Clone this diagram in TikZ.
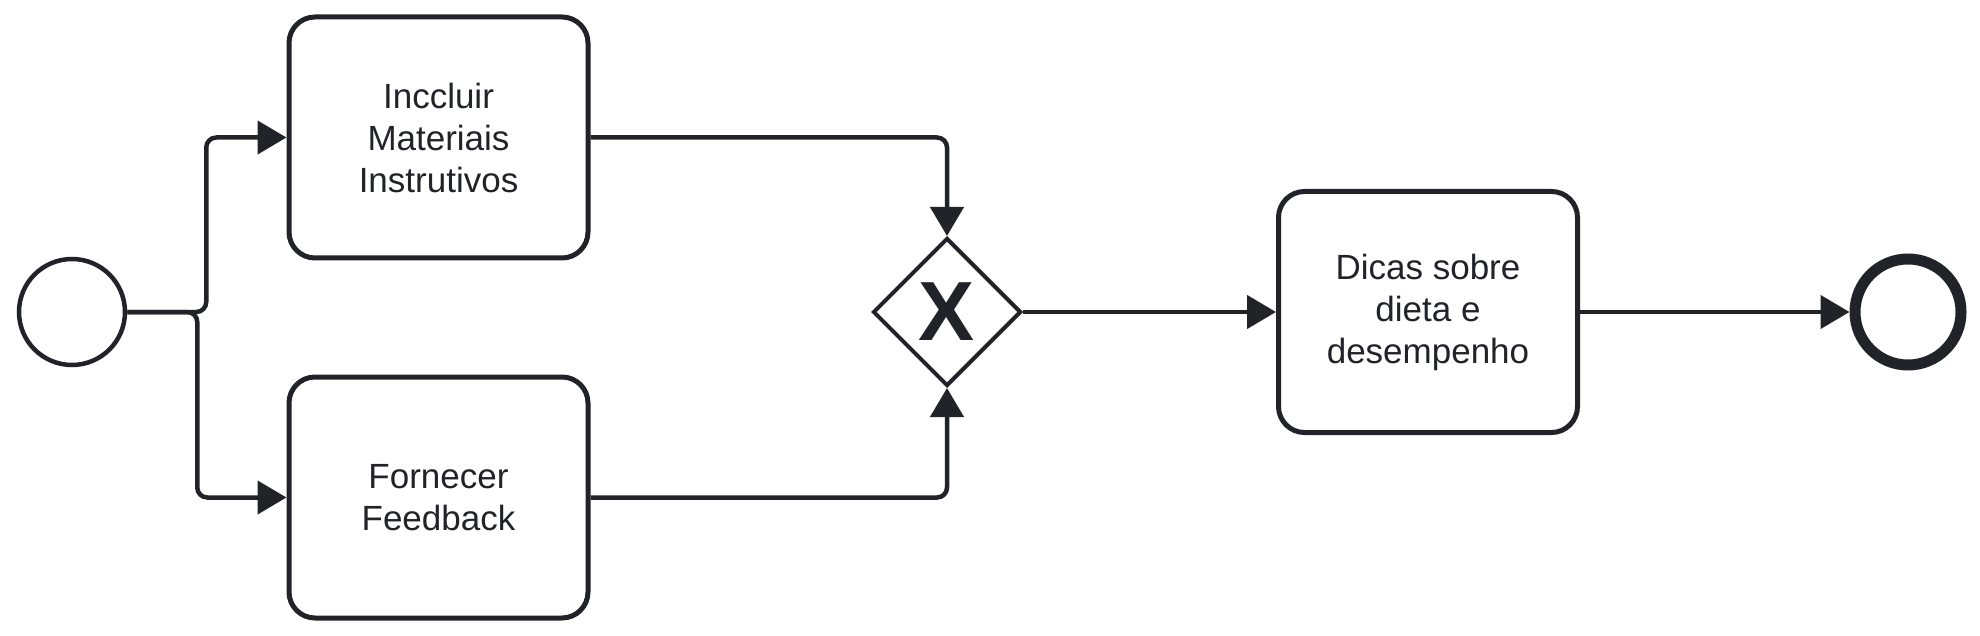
\documentclass[tikz,border=0pt]{standalone}
\usepackage{fontspec}
\setmainfont{Liberation Sans}
\usetikzlibrary{shapes.geometric,arrows.meta}
\definecolor{ink}{RGB}{34,35,40}
\begin{document}
\begin{tikzpicture}[x=1pt,y=-1pt,
  task/.style={draw=ink,line width=5pt,rounded corners=26pt,minimum width=299pt,minimum height=241pt,inner sep=0pt,align=center,text=ink,font=\fontsize{35}{42}\selectfont},
  flow/.style={draw=ink,line width=4.5pt,rounded corners=10pt,-{Triangle[length=29pt,width=33pt]}}]
\useasboundingbox (0,0) rectangle (1980,636);
\node[circle,draw=ink,line width=4.5pt,minimum size=106pt,inner sep=0pt] (start) at (72,312) {};
\node[task] (t1) at (438.5,137.5) {Inccluir\\Materiais\\Instrutivos};
\node[task] (t2) at (438.5,497.5) {Fornecer\\Feedback};
\node[diamond,draw=ink,line width=4pt,minimum width=148pt,minimum height=148pt,inner sep=0pt,text=ink,font=\fontsize{84}{84}\selectfont\bfseries] (gw) at (947,312) {X};
\node[task] (t3) at (1428,312) {Dicas sobre\\dieta e\\desempenho};
\node[circle,draw=ink,line width=11pt,minimum size=106pt,inner sep=0pt] (end) at (1908,312) {};
\draw[flow] (start.east) -- ++(79,0) |- (t1.west);
\draw[flow] (start.east) -- ++(70,0) |- (t2.west);
\draw[flow] (t1.east) -| (gw.north);
\draw[flow] (t2.east) -| (gw.south);
\draw[flow] (gw.east) -- (t3.west);
\draw[flow] (t3.east) -- (end.west);
\end{tikzpicture}
\end{document}
